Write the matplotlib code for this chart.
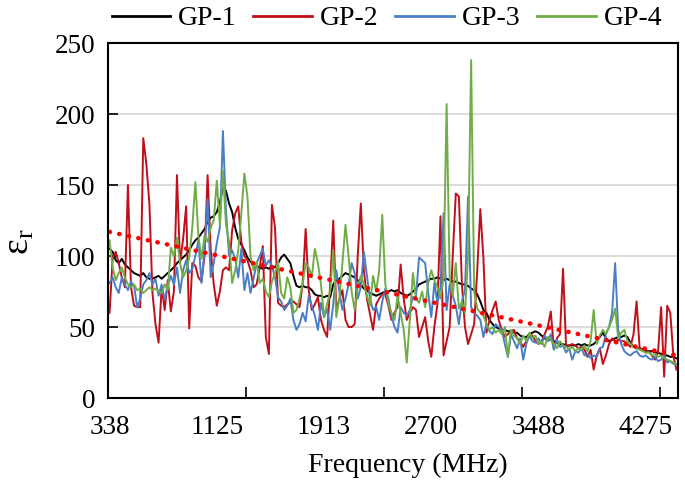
import numpy as np
import matplotlib
matplotlib.use('Agg')
import matplotlib.pyplot as plt

plt.rcParams['font.family'] = ['Liberation Serif', 'DejaVu Serif']
plt.rcParams['mathtext.fontset'] = 'custom'
plt.rcParams['mathtext.rm'] = 'Liberation Serif'
plt.rcParams['mathtext.it'] = 'Liberation Serif:italic'

# Frequency sweep (MHz), 186 points shown from 338 to 4500 MHz
freq = np.linspace(337.8, 4500.0, 186)
label_freqs = [338, 1125, 1913, 2700, 3488, 4275]

gp1 = [105, 103, 97, 95, 98, 94, 92, 90, 88, 87,
       86, 88, 85, 84, 84, 85, 86, 84, 86, 88,
       90, 92, 95, 97, 99, 101, 104, 108, 111, 113,
       116, 119, 124, 127, 128, 131, 138, 148, 146, 137,
       131, 120, 112, 108, 104, 99, 96, 95, 93, 92,
       91, 92, 91, 93, 92, 95, 99, 101, 98, 95,
       86, 79, 78, 79, 78, 78, 76, 73, 72, 72,
       71, 72, 71, 80, 83, 84, 86, 88, 87, 86,
       85, 83, 80, 77, 76, 74, 73, 72, 73, 74,
       75, 75, 76, 75, 76, 74, 73, 72, 73, 75,
       77, 80, 81, 82, 83, 84, 84, 85, 84, 83,
       84, 83, 82, 82, 81, 80, 80, 79, 77, 76,
       73, 68, 62, 60, 55, 52, 50, 49, 48, 48,
       47, 47, 46, 46, 44, 43, 43, 45, 46, 47,
       46, 44, 42, 41, 41, 40, 39, 38, 38, 37,
       37, 37, 37, 38, 37, 38, 37, 37, 38, 40,
       43, 46, 42, 40, 41, 42, 43, 43, 44, 43,
       39, 36, 35, 35, 34, 33, 33, 33, 32, 32,
       31, 30, 30, 29, 29, 28]

gp2 = [60, 98, 103, 95, 85, 78, 150, 78, 65, 64,
       64, 183, 165, 137, 74, 52, 39, 78, 62, 83,
       61, 75, 157, 95, 112, 135, 49, 95, 93, 85,
       82, 100, 157, 105, 80, 65, 75, 90, 92, 90,
       118, 130, 135, 110, 100, 97, 90, 78, 80, 92,
       107, 43, 31, 136, 120, 67, 65, 64, 66, 67,
       68, 66, 64, 80, 119, 76, 62, 66, 71, 55,
       48, 43, 80, 125, 62, 70, 76, 55, 50, 50,
       52, 100, 137, 90, 70, 59, 48, 66, 70, 73,
       73, 65, 55, 60, 64, 94, 70, 55, 60, 64,
       62, 43, 50, 57, 40, 29, 50, 66, 128, 30,
       40, 50, 100, 144, 142, 80, 50, 38, 45, 52,
       90, 133, 99, 46, 55, 62, 68, 55, 48, 43,
       45, 47, 48, 42, 40, 36, 40, 44, 44, 40,
       38, 40, 45, 50, 61, 35, 42, 45, 91, 36,
       37, 38, 37, 35, 36, 34, 29, 34, 20, 30,
       35, 24, 30, 38, 42, 40, 41, 40, 40, 38,
       36, 45, 68, 35, 34, 32, 33, 30, 27, 32,
       64, 15, 65, 60, 30, 20]

gp3 = [81, 85, 78, 74, 85, 80, 76, 82, 79, 64,
       70, 80, 83, 88, 80, 84, 72, 80, 69, 79,
       86, 80, 92, 74, 90, 97, 88, 91, 100, 111,
       81, 104, 140, 85, 95, 109, 120, 188, 132, 100,
       104, 98, 85, 105, 76, 88, 74, 84, 95, 100,
       105, 93, 97, 93, 85, 71, 68, 62, 65, 70,
       55, 48, 52, 60, 54, 72, 65, 58, 48, 67,
       57, 63, 48, 66, 90, 75, 62, 70, 80, 95,
       88, 70, 78, 103, 86, 70, 62, 64, 55, 68,
       77, 70, 58, 50, 46, 64, 60, 58, 62, 71,
       71, 99, 97, 95, 74, 57, 81, 67, 78, 130,
       62, 80, 72, 65, 52, 68, 76, 142, 64, 60,
       58, 55, 43, 52, 47, 45, 52, 50, 48, 38,
       29, 45, 40, 35, 42, 27, 38, 44, 40, 39,
       42, 38, 44, 40, 45, 34, 41, 36, 37, 32,
       35, 27, 33, 32, 35, 30, 31, 28, 30, 29,
       35, 36, 45, 50, 60, 95, 48, 38, 33, 31,
       30, 32, 33, 30, 29, 30, 28, 27, 29, 26,
       27, 30, 25, 26, 24, 24]

gp4 = [111, 92, 83, 88, 92, 85, 80, 78, 80, 76,
       77, 74, 76, 78, 76, 77, 75, 74, 80, 76,
       106, 100, 113, 95, 85, 90, 99, 120, 152, 114,
       98, 114, 110, 120, 125, 153, 122, 160, 122, 110,
       81, 90, 104, 130, 158, 142, 100, 90, 96, 81,
       84, 75, 71, 82, 88, 96, 74, 70, 85, 78,
       60, 62, 70, 80, 95, 92, 85, 105, 95, 80,
       57, 66, 75, 104, 57, 70, 95, 122, 100, 75,
       62, 78, 86, 80, 72, 65, 86, 75, 90, 129,
       80, 66, 60, 55, 72, 60, 48, 25, 55, 88,
       70, 67, 75, 64, 81, 90, 83, 78, 70, 85,
       207, 85, 72, 95, 63, 68, 60, 100, 238, 75,
       63, 60, 58, 52, 48, 50, 46, 48, 45, 50,
       29, 48, 44, 42, 38, 44, 40, 46, 42, 44,
       38, 40, 36, 43, 41, 38, 35, 40, 37, 36,
       34, 36, 33, 35, 34, 37, 33, 40, 62, 38,
       44, 48, 45, 50, 55, 63, 42, 46, 48, 40,
       38, 36, 35, 34, 33, 32, 32, 30, 31, 29,
       30, 28, 27, 26, 25, 24]

# linear trendline end values
trend_ends = [117, 30]

series = [('GP-1', gp1, 'black'),
          ('GP-2', gp2, '#C00F1A'),
          ('GP-3', gp3, '#4A7EC6'),
          ('GP-4', gp4, '#70AD47')]

fig = plt.figure(figsize=(6.85, 4.92), dpi=100)
ax = fig.add_axes([0.1577, 0.191, 0.832, 0.7216])

for name, vals, col in series:
    ax.plot(freq, vals, color=col, linewidth=1.4, label=name)

ax.plot([freq[0], freq[-1]], trend_ends, color='#FF0000', linewidth=3.2,
        linestyle=(0, (0.1, 2.1)), dash_capstyle='round')

step = freq[1] - freq[0]
ax.set_xlim(freq[0] - step / 2, freq[-1] + step / 2)
ax.set_ylim(0, 250)

ax.set_yticks([0, 50, 100, 150, 200, 250])
ax.yaxis.grid(True, color='#D9D9D9', linewidth=1.3)
ax.set_axisbelow(True)
ax.tick_params(axis='y', direction='in', length=7, width=1.2,
               labelsize=19.5, pad=9)

ax.set_xticks(label_freqs)
ax.set_xticklabels([str(f) for f in label_freqs])
ax.tick_params(axis='x', which='major', length=0, labelsize=19.5, pad=12)
tick_marks = [freq[0] + (45 * k - 0.5) * step for k in range(1, 5)]
ax.set_xticks(tick_marks, minor=True)
ax.tick_params(axis='x', which='minor', direction='in', length=8, width=1.2)

for sp in ax.spines.values():
    sp.set_linewidth(1.5)

ax.set_xlabel('Frequency (MHz)', fontsize=20)
ax.xaxis.set_label_coords(0.526, -0.155)
ax.set_ylabel(r'$\mathrm{ε_r}$', fontsize=27, rotation=90)
ax.yaxis.set_label_coords(-0.125, 0.44)

leg = fig.legend(loc='center', bbox_to_anchor=(0.565, 0.962), ncol=4,
                 frameon=False, fontsize=20, handlelength=2.1,
                 handletextpad=0.3, columnspacing=0.6, borderaxespad=0)
for line in leg.get_lines():
    line.set_linewidth(2.0)

fig.savefig('out.png', dpi=100)
